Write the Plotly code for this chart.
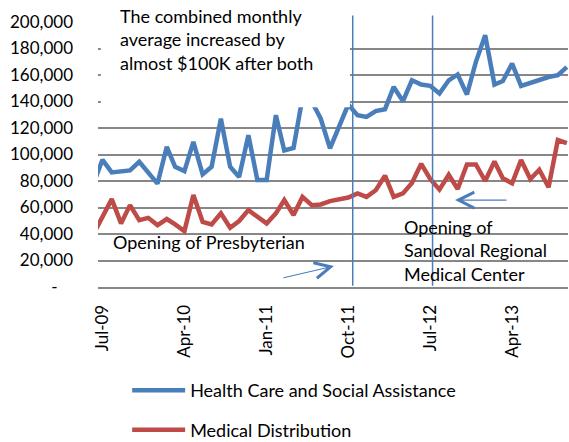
import pandas as pd
import plotly.graph_objects as go

# Monthly dates (Jun-09 .. Oct-13); Jun-09 sits just left of the visible axis range
months = list(pd.date_range("2009-06-01", "2013-10-01", freq="MS"))

health_care = [78, 96, 86.5, 87, 88, 94.5, 87, 78, 105.8, 90.7, 87.5, 109.5, 85, 90.7,
               127, 90.7, 83, 114.6, 80.7, 80.7, 129.7, 103, 105, 143, 140, 127, 104.6,
               121, 137.7, 129.7, 128.4, 132.7, 134.2, 151, 140.2, 156, 152.8, 151.8,
               146, 156, 160.4, 145.3, 169.9, 190, 152.8, 155.5, 168.6, 151.8, 154.3,
               156.8, 158.5, 159.8, 166]
medical_dist = [40, 53, 66.3, 48, 61.8, 50.5, 52.2, 46.7, 51.3, 47.3, 42.2, 69.4, 49.2,
                47.3, 55.6, 44.7, 49.8, 58, 53, 48, 55.6, 65.6, 54.3, 68, 61.8, 62.3,
                64.8, 65.8, 67.5, 70.6, 68, 73, 84, 68, 70.6, 78.5, 93, 81.5, 73.5, 84.7,
                74, 92.5, 92.5, 80, 94.8, 82, 78.3, 95.8, 81.5, 88.5, 75.3, 110.9, 108.5]
health_care = [v * 1000 for v in health_care]
medical_dist = [v * 1000 for v in medical_dist]

y_ticks = [0, 20000, 40000, 60000, 80000, 100000, 120000, 140000, 160000, 180000, 200000]
y_tick_text = ["-\u2007\u2004"] + [f"{v:,}" for v in y_ticks[1:]]

FONT = "Lato, Calibri, Carlito, sans-serif"
BLUE = "#4a7ebb"
RED = "#be4b48"
GRID = "#878787"

fig = go.Figure()
fig.add_trace(go.Scatter(x=months, y=health_care, mode="lines",
                         name="Health Care and Social Assistance",
                         line=dict(color=BLUE, width=4.5), legendgroup="a"))
fig.add_trace(go.Scatter(x=months, y=medical_dist, mode="lines",
                         name="Medical Distribution",
                         line=dict(color=RED, width=4.5), legendgroup="b"))

# white text box covering the top-left of the plot
fig.add_shape(type="rect", xref="paper", yref="paper", x0=0.006, x1=0.536, y0=0.678, y1=1.09,
              fillcolor="white", line=dict(width=0), layer="above")
# opening lines
for d in ["2011-10-16", "2012-07-09"]:
    fig.add_shape(type="line", xref="x", yref="paper", x0=d, x1=d, y0=0.005, y1=1.025,
                  line=dict(color=BLUE, width=1.5), layer="above")

fig.add_annotation(xref="paper", yref="paper", x=0.043, y=0.935, xanchor="left", yanchor="middle",
                   align="left", showarrow=False,
                   text="The combined monthly<br>average increased by<br>almost $100K after both",
                   font=dict(family=FONT, size=18, color="#000"))
fig.add_annotation(xref="paper", yref="paper", x=0.028, y=0.17, xanchor="left", yanchor="middle",
                   showarrow=False, text="Opening of Presbyterian",
                   font=dict(family=FONT, size=18, color="#000"))
fig.add_annotation(xref="paper", yref="paper", x=0.647, y=0.1396, xanchor="left", yanchor="middle",
                   align="left", showarrow=False,
                   text="Opening of<br>Sandoval Regional<br>Medical Center",
                   font=dict(family=FONT, size=18, color="#000"))
# arrows
fig.add_annotation(xref="paper", yref="paper", x=0.502, y=0.079, ax=-52, ay=12, text="",
                   showarrow=True, arrowhead=5, arrowsize=2.6, arrowwidth=1.2, arrowcolor=BLUE)
fig.add_annotation(xref="paper", yref="paper", x=0.7596, y=0.328, ax=53, ay=0, text="",
                   showarrow=True, arrowhead=5, arrowsize=2.6, arrowwidth=1.2, arrowcolor=BLUE)

fig.update_layout(
    width=569, height=442,
    margin=dict(l=98, r=1, t=22, b=155, autoexpand=False),
    paper_bgcolor="white", plot_bgcolor="white",
    font=dict(family=FONT, size=17, color="#000"),
    showlegend=True,
    legend=dict(x=0.062, y=-0.321, xanchor="left", yanchor="top",
                font=dict(family=FONT, size=18, color="#000"),
                tracegroupgap=13, itemwidth=53, bgcolor="rgba(0,0,0,0)"),
    xaxis=dict(type="date", range=["2009-06-16", "2013-10-05"],
               tick0="2009-07-01", dtick="M9", tickformat="%b-%y", tickangle=-90,
               showgrid=False, showline=True, linecolor=GRID, linewidth=2,
               ticks="", ticklabelstandoff=9, tickfont=dict(family=FONT, size=17)),
    yaxis=dict(range=[0, 200000], tickvals=y_ticks, ticktext=y_tick_text,
               showgrid=True, gridcolor=GRID, gridwidth=2, zeroline=True,
               zerolinecolor=GRID, zerolinewidth=2, showline=False, ticks="",
               ticklabelstandoff=24, tickfont=dict(family=FONT, size=17)),
)

fig.write_html("out.html", config={"displayModeBar": False},
               post_script="document.body.style.margin='0';document.body.style.overflow='hidden';")
